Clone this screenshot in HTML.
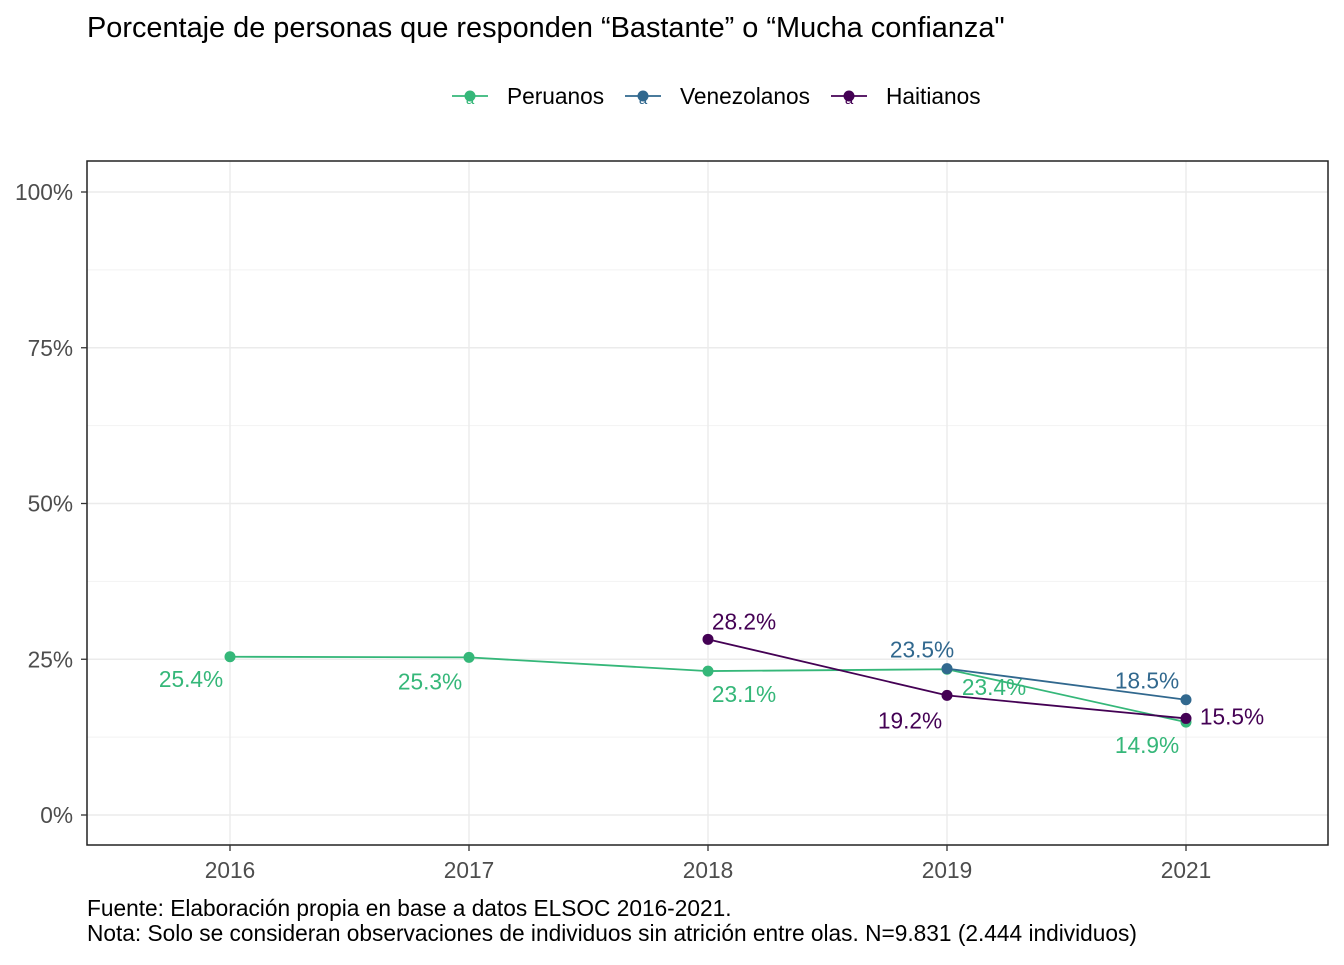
<!DOCTYPE html>
<html><head><meta charset="utf-8"><style>
body{margin:0;background:#fff;font-family:"Liberation Sans",Arial,sans-serif;}
svg text{font-family:"Liberation Sans",Arial,sans-serif;}
</style></head><body>
<svg id="c" width="1344" height="960" xmlns="http://www.w3.org/2000/svg">
<rect width="1344" height="960" fill="#fff"/>
<text x="87" y="37" font-size="28.9" fill="#000">Porcentaje de personas que responden “Bastante” o “Mucha confianza"</text>
<g id="legend"></g>
<g id="grid"></g>
<g id="marks"></g>
<rect x="87" y="161" width="1241" height="684" fill="none" stroke="#222" stroke-width="1.5"/>
<g id="axes"></g>
<text x="87" y="916" font-size="22.7" fill="#000">Fuente: Elaboración propia en base a datos ELSOC 2016-2021.</text>
<text x="87" y="941" font-size="22.7" fill="#000">Nota: Solo se consideran observaciones de individuos sin atrición entre olas. N=9.831 (2.444 individuos)</text>
</svg>
<script>
const categories=["2016","2017","2018","2019","2021"];
const seriesNames=["Peruanos","Venezolanos","Haitianos"];
const peruanos=[25.4,25.3,23.1,23.4,14.9];
const venezolanos=[null,null,null,23.5,18.5];
const haitianos=[null,null,28.2,19.2,15.5];
const yTicks=[0,25,50,75,100];
const yTickLabels=["0%","25%","50%","75%","100%"];
const colors=["#35b779","#31688e","#440154"];
const labelOffsets=[
 [[-39,22],[-39,24],[36,23],[47,18],[-39,23]],
 [null,null,null,[-25,-19],[-39,-19]],
 [null,null,[36,-18],[-37,25],[46,-2]]
];
const NS="http://www.w3.org/2000/svg";
const x=i=>230+i*239;
const y=v=>815-v*6.23;
function mk(tag,attrs,parent){const e=document.createElementNS(NS,tag);for(const k in attrs)e.setAttribute(k,attrs[k]);parent.appendChild(e);return e;}
const grid=document.getElementById('grid'),marks=document.getElementById('marks'),axes=document.getElementById('axes'),legend=document.getElementById('legend');
for(let i=0;i<yTicks.length-1;i++){const m=(yTicks[i]+yTicks[i+1])/2;const l=mk('line',{x1:87,x2:1328,y1:y(m),y2:y(m),stroke:'#f2f2f2','stroke-width':1},grid);

}
yTicks.forEach((t,i)=>{const l=mk('line',{x1:87,x2:1328,y1:y(t),y2:y(t),stroke:'#ebebeb','stroke-width':1.4},grid);


mk('line',{x1:81,x2:87,y1:y(t),y2:y(t),stroke:'#333','stroke-width':1.3},axes);
const tx=mk('text',{x:73,y:y(t)+8,'font-size':22.7,fill:'#4d4d4d','text-anchor':'end'},axes);tx.textContent=yTickLabels[i];

});
categories.forEach((c,i)=>{const l=mk('line',{x1:x(i),x2:x(i),y1:161,y2:845,stroke:'#ebebeb','stroke-width':1.4},grid);


mk('line',{x1:x(i),x2:x(i),y1:845,y2:851,stroke:'#333','stroke-width':1.3},axes);
const tx=mk('text',{x:x(i),y:878,'font-size':22.7,fill:'#4d4d4d','text-anchor':'middle'},axes);tx.textContent=c;

});
const data=[peruanos,venezolanos,haitianos];
data.forEach((s,si)=>{const g=mk('g',{},marks);


const pts=s.map((v,i)=>v==null?null:[x(i),y(v)]).filter(p=>p);
const pl=mk('polyline',{points:pts.map(p=>p.join(',')).join(' '),fill:'none',stroke:colors[si],'stroke-width':1.8},g);


s.forEach((v,i)=>{if(v==null)return;const c=mk('circle',{cx:x(i),cy:y(v),r:5.5,fill:colors[si]},g);


const o=labelOffsets[si][i];const t=mk('text',{x:x(i)+o[0],y:y(v)+o[1]+8,'font-size':22.7,fill:colors[si],'text-anchor':'middle'},g);t.textContent=v.toFixed(1)+'%';

});});
const lx=[470,643,849];
seriesNames.forEach((n,i)=>{const g=mk('g',{},legend);


mk('line',{x1:lx[i]-18,x2:lx[i]+18,y1:96,y2:96,stroke:colors[i],'stroke-width':1.8},g);
mk('circle',{cx:lx[i],cy:96,r:5.5,fill:colors[i]},g);
const a=mk('text',{x:lx[i],y:104,'font-size':15,fill:colors[i],'text-anchor':'middle'},g);a.textContent='a';
const t=mk('text',{x:lx[i]+37,y:104,'font-size':22.7,fill:'#000'},g);t.textContent=n;});
</script>
</body></html>
